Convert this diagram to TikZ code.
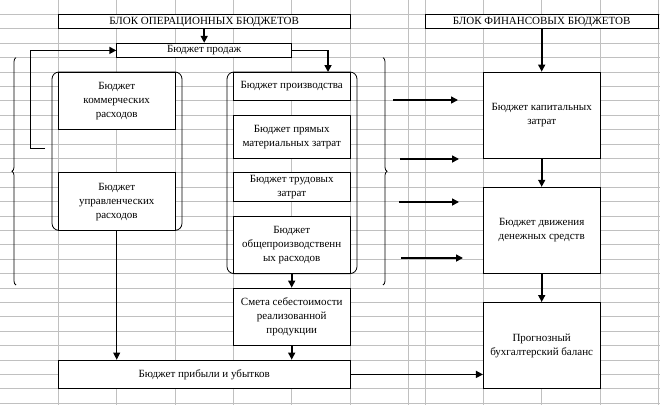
\documentclass[tikz,border=0pt]{standalone}
\usepackage{fontspec}
\setmainfont{Liberation Serif}
\usepackage{xcolor}
\usetikzlibrary{arrows.meta,positioning,calc,decorations.pathreplacing}
\definecolor{gridgray}{RGB}{192,192,192}
\tikzstyle{arr}     =[-{Triangle[length=7pt,width=7pt]}, line width=1.6pt]
\tikzstyle{tarr}    =[-{Triangle[length=7pt,width=7pt]}, line width=0.8pt]
\tikzstyle{bud}     =[draw, fill=white, line width=0.8pt, align=center, inner sep=1pt, minimum width=116.7pt]
\tikzstyle{bracket} =[draw, line width=0.8pt, rounded corners=7pt]
\tikzstyle{brc}     =[decorate, decoration={brace, amplitude=4pt}, line width=0.8pt]

\begin{document}
\begin{tikzpicture}[x=1pt, y=-1pt, every node/.style={font=\fontsize{11}{14}\selectfont}]
  \useasboundingbox (0,0) rectangle (660,405);

  % ── sheet grid ─────────────────────────────────────────────────────────────
  \foreach \gx in {58.3,116.7,175,233.3,291.7,350,408.3,425,483.3,541.7,600,658.3}
    \draw[gridgray, line width=0.8pt] (\gx,0) -- (\gx,405);
  \foreach \k in {1,...,28}
    \draw[gridgray, line width=0.8pt] (0,\k*14.4) -- (660,\k*14.4);

  % ── group brackets and braces ──────────────────────────────────────────────
  \draw[bracket] (52,72) rectangle (182,230.4);
  \draw[bracket] (227,72) rectangle (357,273.6);
  \draw[brc] (16,285) -- (16,57.6);
  \draw[brc] (383,57.6) -- (383,285);

  % ── block headers ──────────────────────────────────────────────────────────
  \node[bud, minimum width=291.7pt, minimum height=14.4pt] (opblock)  at (204.2,21.6) {БЛОК ОПЕРАЦИОННЫХ БЮДЖЕТОВ};
  \node[bud, minimum width=233.3pt, minimum height=14.4pt] (finblock) at (541.7,21.6) {БЛОК ФИНАНСОВЫХ БЮДЖЕТОВ};

  % ── operating budgets ──────────────────────────────────────────────────────
  \node[bud, minimum width=175pt, minimum height=14.4pt] (sales) at (204.2,50.4) {Бюджет продаж};
  \node[bud, minimum height=57.6pt] (comm)  at (116.7,100.8) {Бюджет\\коммерческих\\расходов};
  \node[bud, minimum height=57.6pt] (upr)   at (116.7,201.6) {Бюджет\\управленческих\\расходов};
  \node[bud, minimum height=28.8pt] (prod)  at (291.7,86.4)  {Бюджет производства};
  \node[bud, minimum height=43.2pt] (mat)   at (291.7,136.8) {Бюджет прямых\\материальных затрат};
  \node[bud, minimum height=28.8pt] (labor) at (291.7,187.2) {Бюджет трудовых\\затрат};
  \node[bud, minimum height=57.6pt] (ohead) at (291.7,244.8) {Бюджет\\общепроизводственн\\ых расходов};
  \node[bud, minimum height=57.6pt] (cost)  at (291.7,316.8) {Смета себестоимости\\реализованной\\продукции};
  \node[bud, minimum width=291.7pt, minimum height=28.8pt] (profit) at (204.2,374.4) {Бюджет прибыли и убытков};

  % ── financial budgets ──────────────────────────────────────────────────────
  \node[bud, minimum height=86.4pt] (capex)   at (541.7,115.2) {Бюджет капитальных\\затрат};
  \node[bud, minimum height=86.4pt] (cash)    at (541.7,230.4) {Бюджет движения\\денежных средств};
  \node[bud, minimum height=86.4pt] (balance) at (541.7,345.6) {Прогнозный\\бухгалтерский баланс};

  % ── connectors ─────────────────────────────────────────────────────────────
  \draw[arr] (opblock) -- (sales);
  \coordinate (prodtop) at (328,72);
  \draw[line width=0.8pt] (sales.east) -- (sales.east -| prodtop) coordinate (salesturn);
  \draw[arr] (salesturn) -- (prodtop);
  \coordinate (loopfoot) at (45,148.8);
  \draw[line width=0.8pt] (loopfoot) -- ++(-15,0) coordinate (loopcorner) -- (loopcorner |- sales.west) coordinate (looptop);
  \draw[arr] (looptop) -- (sales.west);
  \draw[tarr] (upr) -- (upr.south |- profit.north);
  \draw[arr] (ohead) -- (cost);
  \draw[arr] (cost) -- (cost.south |- profit.north);
  \draw[arr] (profit.east) -- (balance.west |- profit.east);
  \draw[arr] (finblock.south -| capex) -- (capex);
  \draw[arr] (capex) -- (cash);
  \draw[arr] (cash) -- (balance);
  \foreach \i/\ay/\ax/\bx in {1/100/393/458, 2/159/400/459, 3/202/399/459, 4/258/401/463} {
    \coordinate (fs\i) at (\ax,\ay);
    \coordinate (fe\i) at (\bx,\ay);
    \draw[arr] (fs\i) -- (fe\i);
  }

\end{tikzpicture}
\end{document}
